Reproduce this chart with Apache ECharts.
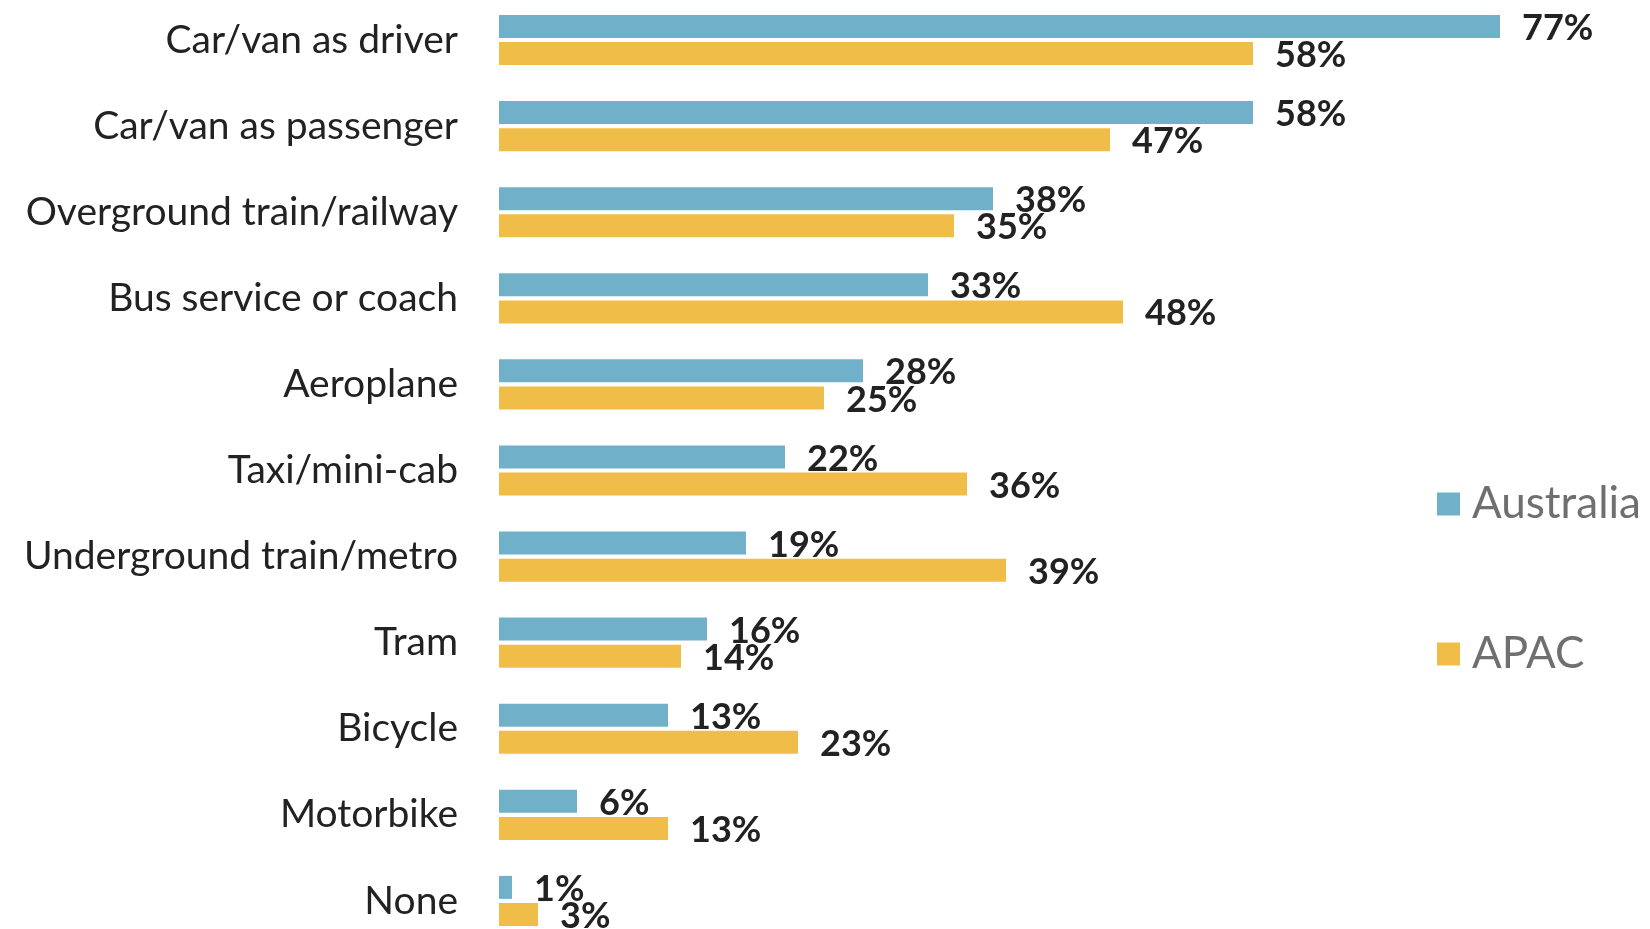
<!DOCTYPE html>
<html>
<head>
    <meta charset="utf-8">
    <title>Transport modes</title>
    <script src="https://cdn.jsdelivr.net/npm/echarts@6/dist/echarts.min.js"></script>
</head>
<body>
<style>
    html, body, #main {
        width: 100%;
        height: 100%;
        padding: 0;
        margin: 0;
        background: #fff;
    }
</style>
<div id="main"></div>
<script type="text/javascript">
    var categories = ['Car/van as driver', 'Car/van as passenger', 'Overground train/railway',
        'Bus service or coach', 'Aeroplane', 'Taxi/mini-cab', 'Underground train/metro',
        'Tram', 'Bicycle', 'Motorbike', 'None'];
    var australia = [77, 58, 38, 33, 28, 22, 19, 16, 13, 6, 1];
    var apac = [58, 47, 35, 48, 25, 36, 39, 14, 23, 13, 3];

    var myChart = echarts.init(document.getElementById('main'));
    window.onresize = function () {
        myChart.resize();
    };

    var labelStyle = {
        show: true,
        position: 'right',
        distance: 22,
        offset: [0, 2],
        formatter: '{c}%',
        fontFamily: 'Lato',
        fontSize: 36,
        fontWeight: 'bold',
        color: '#222'
    };

    myChart.setOption({
        animation: false,
        textStyle: {fontFamily: 'Lato'},
        legend: {
            orient: 'vertical',
            left: 1437,
            top: 481,
            padding: 0,
            itemWidth: 23,
            itemHeight: 23,
            itemGap: 104,
            icon: 'rect',
            textStyle: {
                fontSize: 44,
                lineHeight: 46,
                color: '#6f6f6f',
                fontFamily: 'Lato',
                padding: [0, 0, 0, 7]
            },
            data: ['Australia', 'APAC']
        },
        grid: {
            left: 499,
            width: 1144,
            top: -3,
            height: 947,
            outerBoundsMode: 'none',
            containLabel: false
        },
        xAxis: {
            type: 'value',
            min: 0,
            max: 88,
            show: false
        },
        yAxis: {
            type: 'category',
            inverse: true,
            data: categories,
            axisLine: {show: false},
            axisTick: {show: false},
            axisLabel: {
                margin: 41,
                padding: [5, 0, 0, 0],
                fontFamily: 'Lato',
                fontSize: 39,
                color: '#222'
            }
        },
        series: [
            {
                name: 'Australia',
                type: 'bar',
                data: australia,
                barWidth: 23,
                barGap: '18%',
                itemStyle: {color: '#71B0C9'},
                label: labelStyle
            },
            {
                name: 'APAC',
                type: 'bar',
                data: apac,
                barWidth: 23,
                itemStyle: {color: '#F0BE48'},
                label: labelStyle
            }
        ]
    });
</script>
</body>
</html>
